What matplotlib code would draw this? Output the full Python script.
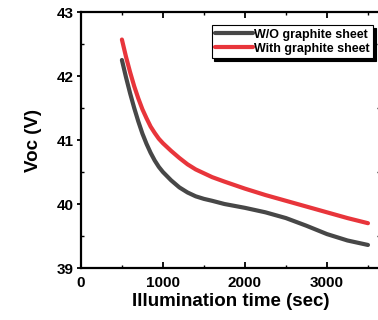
import numpy as np
import matplotlib
matplotlib.use('Agg')
import matplotlib.pyplot as plt
from matplotlib.ticker import MultipleLocator

plt.rcParams['font.family'] = ['Liberation Sans', 'DejaVu Sans']
plt.rcParams['font.weight'] = 'bold'

##------------data-----------------##
time_sec = [500, 550, 600, 650, 700, 750, 800, 850, 900, 950, 1000,
            1100, 1200, 1300, 1400, 1500, 1600, 1750, 2000,
            2250, 2500, 2750, 3000, 3250, 3500]
voc_without = [42.25, 41.98, 41.73, 41.50, 41.29, 41.10, 40.94, 40.80, 40.68, 40.58, 40.50,
               40.37, 40.26, 40.18, 40.12, 40.08, 40.05, 40.00, 39.94,
               39.87, 39.78, 39.66, 39.53, 39.43, 39.36]
voc_with = [42.57, 42.30, 42.06, 41.84, 41.65, 41.48, 41.34, 41.21, 41.11, 41.02, 40.95,
            40.83, 40.72, 40.62, 40.54, 40.48, 40.42, 40.35, 40.24,
            40.14, 40.05, 39.96, 39.87, 39.78, 39.70]

##------------figure-----------------##
fig = plt.figure(figsize=(3.78, 3.2), dpi=100)
ax = fig.add_axes([0.214, 0.1625, 0.792, 0.8])

ax.plot(time_sec, voc_without, color='#474747', lw=3, solid_capstyle='round',
        solid_joinstyle='round', label='W/O graphite sheet')
ax.plot(time_sec, voc_with, color='#e8353b', lw=3, solid_capstyle='round',
        solid_joinstyle='round', label='With graphite sheet')

ax.set_xlim(0, 3650)
ax.set_ylim(39, 43)
ax.xaxis.set_major_locator(MultipleLocator(1000))
ax.xaxis.set_minor_locator(MultipleLocator(500))
ax.yaxis.set_major_locator(MultipleLocator(1))
ax.yaxis.set_minor_locator(MultipleLocator(0.5))

for s in ax.spines.values():
    s.set_linewidth(1.6)

ax.tick_params(axis='x', which='major', direction='in', length=4, width=1.3,
               top=True, labelsize=11, pad=6)
ax.tick_params(axis='x', which='minor', direction='in', length=2, width=1,
               top=True)
ax.tick_params(axis='y', which='major', direction='out', length=3, width=1.3,
               labelsize=11, pad=2, right=True)
ax.tick_params(axis='y', which='minor', direction='in', length=2, width=1,
               right=True)
for lab in ax.get_xticklabels() + ax.get_yticklabels():
    lab.set_fontweight('bold')

ax.set_xlabel('Illumination time (sec)', fontsize=13.5, fontweight='bold', labelpad=2)
ax.set_ylabel('Voc (V)', fontsize=13.5, fontweight='bold', labelpad=11)

leg = ax.legend(loc='upper right', bbox_to_anchor=(0.977, 0.949), fontsize=9,
                frameon=True, fancybox=False, handlelength=3.0, handletextpad=0.1,
                borderpad=0.3, labelspacing=0.15, borderaxespad=0,
                shadow={'color': 'black', 'alpha': 1})
leg.get_frame().set_edgecolor('black')
leg.get_frame().set_linewidth(0.8)
for t in leg.get_texts():
    t.set_fontweight('bold')

fig.savefig('out.png', dpi=100)
